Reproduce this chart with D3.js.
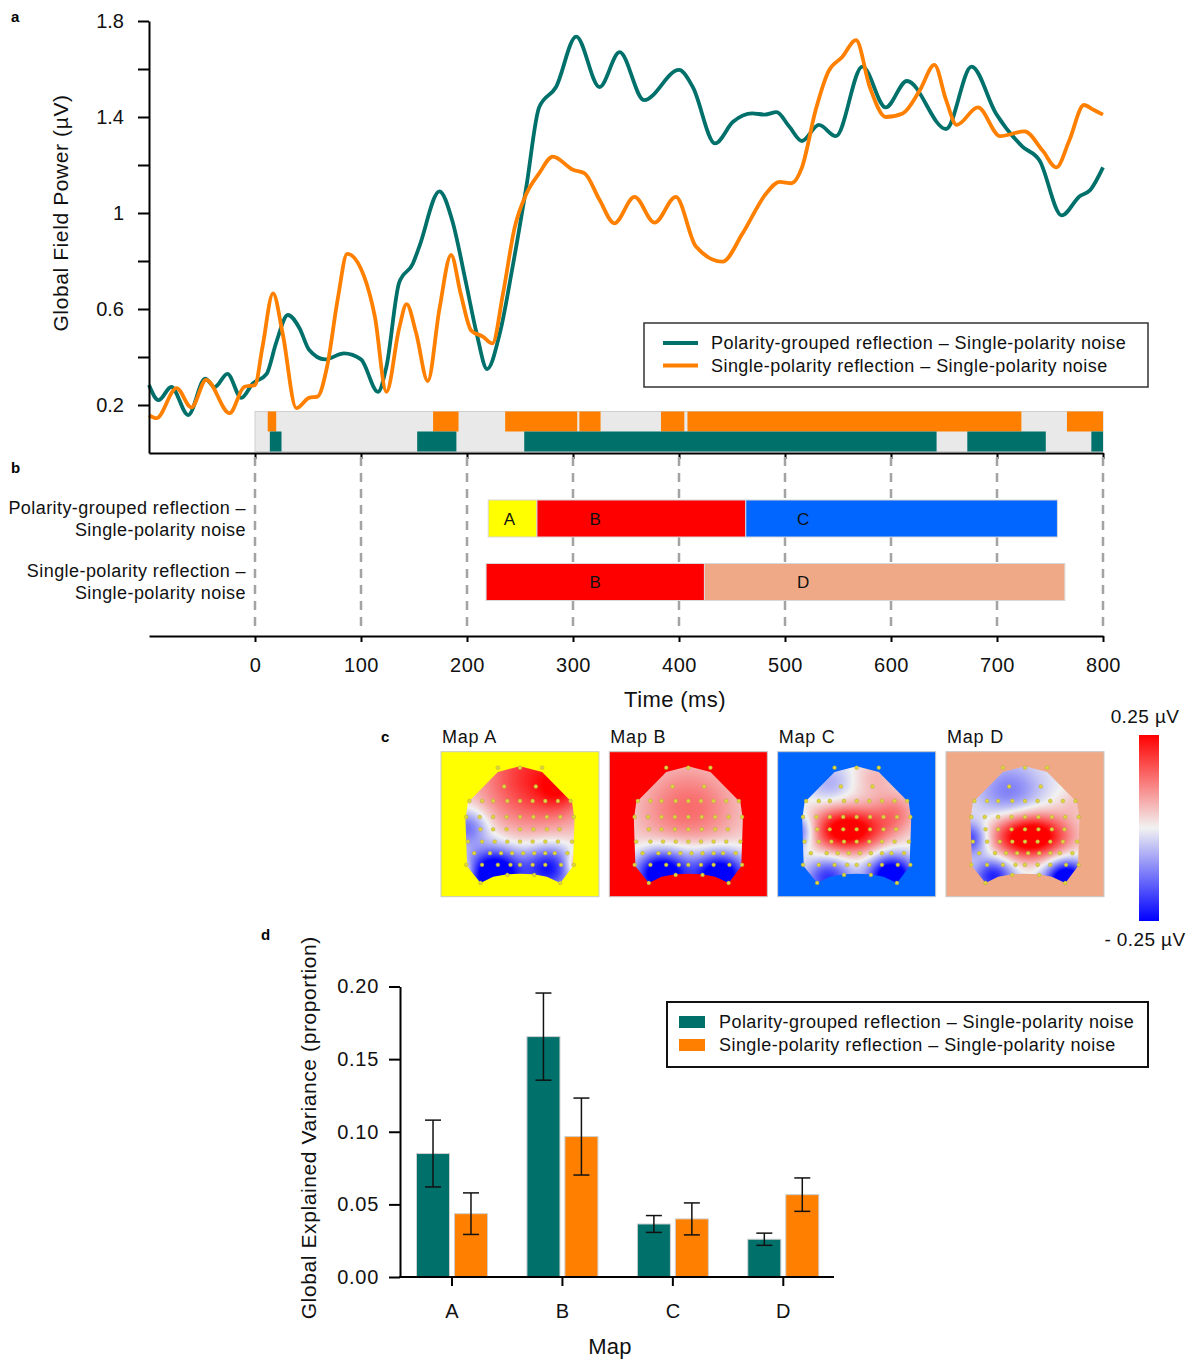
<!DOCTYPE html>
<html>
<head>
<meta charset="utf-8">
<script src="https://cdn.jsdelivr.net/npm/d3@7"></script>
<style>
  body { margin: 0; background: #fff; }
  svg { display: block; }
</style>
</head>
<body>
<svg id="fig" width="1189" height="1361"></svg>
<script>
/* ---------------- data ---------------- */

// panel a: global field power (time in ms, value in µV)
const gfpGroupedTime = [-100, -91, -79, -63, -47, -38, -26, -13, -2, 11, 20, 31, 42, 51, 66, 84, 100, 116, 124,
  136, 149, 155, 174, 186, 199, 209, 219, 231, 243, 256, 268, 284, 303, 325, 344, 367, 400, 413, 434,
  451, 469, 481, 492, 504, 516, 532, 548, 573, 595, 615, 652, 676, 699, 724, 740, 761, 778, 788, 800];
const gfpGroupedValue = [0.283, 0.22, 0.275, 0.158, 0.31, 0.275, 0.33, 0.23, 0.29, 0.33, 0.46, 0.575, 0.52, 0.43, 0.39, 0.415, 0.39, 0.255, 0.36,
  0.71, 0.79, 0.86, 1.09, 0.97, 0.71, 0.50, 0.35, 0.50, 0.775, 1.11, 1.44, 1.525, 1.735, 1.525, 1.67, 1.47, 1.596, 1.525, 1.29,
  1.38, 1.415, 1.41, 1.42, 1.36, 1.30, 1.367, 1.32, 1.61, 1.44, 1.55, 1.35, 1.61, 1.415, 1.277, 1.22, 0.99, 1.07, 1.096, 1.19];

const gfpSingleTime = [-100, -93, -74, -60, -46, -24, -10, 0, 7, 17, 26, 39, 51, 59, 68, 78, 87, 103, 113, 124,
  136, 143, 152, 163, 174, 185, 194, 204, 215, 224, 234, 245, 256, 268, 281, 300, 311, 325, 339, 358,
  377, 397, 416, 441, 460, 482, 495, 506, 516, 529, 541, 554, 567, 580, 595, 611, 627, 641, 652, 662,
  682, 703, 726, 743, 756, 768, 782, 791, 800];
const gfpSingleValue = [0.158, 0.145, 0.27, 0.19, 0.305, 0.166, 0.276, 0.283, 0.44, 0.665, 0.50, 0.187, 0.23, 0.235, 0.36, 0.64, 0.83, 0.735, 0.57, 0.255,
  0.52, 0.62, 0.50, 0.30, 0.60, 0.825, 0.665, 0.51, 0.485, 0.457, 0.665, 0.94, 1.08, 1.165, 1.235, 1.18, 1.165, 1.055, 0.957, 1.067,
  0.96, 1.067, 0.86, 0.797, 0.915, 1.08, 1.13, 1.124, 1.19, 1.43, 1.59, 1.65, 1.72, 1.525, 1.40, 1.415, 1.51, 1.617, 1.47, 1.367,
  1.44, 1.32, 1.34, 1.26, 1.19, 1.30, 1.45, 1.43, 1.41];

// significant windows (ms)
const sigGrouped = [[14, 25], [153, 190], [254, 643], [672, 746], [789, 800]];
const sigSingle = [[12, 20], [168, 192], [236, 304], [306, 326], [383, 405], [408, 723], [766, 800]];

// panel b: microstate segments per condition
const conditions = ['grouped', 'single'];
const conditionNames = [
  ['Polarity-grouped reflection –', 'Single-polarity noise'],
  ['Single-polarity reflection –', 'Single-polarity noise']
];
const segGrouped = [
  { map: 'A', start: 220, end: 266, labelAt: 240 },
  { map: 'B', start: 266, end: 463, labelAt: 321 },
  { map: 'C', start: 463, end: 757, labelAt: 517 }
];
const segSingle = [
  { map: 'B', start: 218, end: 424, labelAt: 321 },
  { map: 'D', start: 424, end: 764, labelAt: 517 }
];

// panel d: global explained variance
const mapNames = ['A', 'B', 'C', 'D'];
const gevGrouped = [0.085, 0.1655, 0.0365, 0.026];
const gevGroupedErr = [0.023, 0.030, 0.0058, 0.0042];
const gevSingle = [0.0436, 0.0967, 0.040, 0.0567];
const gevSingleErr = [0.0143, 0.0265, 0.011, 0.0115];

// ticks
const timeTicks = [0, 100, 200, 300, 400, 500, 600, 700, 800];
const gfpTicks = [0.2, 0.4, 0.6, 0.8, 1.0, 1.2, 1.4, 1.6, 1.8];
const gfpLabelled = [0.2, 0.6, 1.0, 1.4, 1.8];
const gevTicks = [0, 0.05, 0.10, 0.15, 0.20];

// panel c: rough topography model, sources [x, y, amplitude µV, spread x, spread y] in map-relative units
const topoA = [[0.6, 0.18, 0.21, 0.27], [0.76, 0.26, 0.09, 0.1], [0.34, 0.84, -0.36, 0.12], [0.68, 0.8, -0.24, 0.11],
  [0.17, 0.52, -0.15, 0.09], [0.88, 0.78, 0.16, 0.06], [0.13, 0.82, 0.12, 0.05]];
const topoB = [[0.5, 0.4, 0.14, 0.25], [0.32, 0.84, -0.32, 0.11], [0.71, 0.85, -0.32, 0.11], [0.5, 0.8, -0.09, 0.14]];
const topoC = [[0.44, 0.54, 0.3, 0.17, 0.11], [0.75, 0.42, 0.1, 0.1], [0.12, 0.55, -0.2, 0.08], [0.33, 0.22, -0.07, 0.1],
  [0.62, 0.18, 0.06, 0.1], [0.72, 0.86, -0.35, 0.1], [0.32, 0.87, -0.2, 0.1]];
const topoD = [[0.53, 0.58, 0.33, 0.17, 0.11], [0.4, 0.28, -0.12, 0.15], [0.15, 0.6, -0.2, 0.08], [0.76, 0.88, -0.35, 0.09],
  [0.3, 0.86, -0.22, 0.09], [0.82, 0.35, 0.04, 0.08]];
const topoSources = { A: topoA, B: topoB, C: topoC, D: topoD };

// scalp outline and electrode rows (map-relative)
const headOutline = [[0.50, 0.10], [0.64, 0.14], [0.83, 0.35], [0.845, 0.47], [0.835, 0.79], [0.755, 0.905],
  [0.67, 0.862], [0.585, 0.845], [0.5, 0.842], [0.42, 0.845], [0.33, 0.862], [0.25, 0.905],
  [0.165, 0.79], [0.155, 0.47], [0.17, 0.35], [0.36, 0.14]];
const electrodeRows = [
  { y: 0.11, xs: [0.36, 0.50, 0.64] },
  { y: 0.24, xs: [0.40, 0.60] },
  { y: 0.34, xs: [0.18, 0.26, 0.33, 0.42, 0.50, 0.58, 0.66, 0.74, 0.82] },
  { y: 0.45, xs: [0.16, 0.245, 0.33, 0.415, 0.50, 0.585, 0.67, 0.755, 0.84] },
  { y: 0.535, xs: [0.25, 0.33, 0.415, 0.50, 0.585, 0.67, 0.75] },
  { y: 0.62, xs: [0.17, 0.26, 0.34, 0.42, 0.50, 0.58, 0.66, 0.74, 0.83] },
  { y: 0.70, xs: [0.21, 0.31, 0.38, 0.45, 0.52, 0.59, 0.66, 0.72, 0.80] },
  { y: 0.78, xs: [0.16, 0.26, 0.36, 0.44, 0.50, 0.58, 0.66, 0.76, 0.84] },
  { y: 0.85, xs: [0.42, 0.59] },
  { y: 0.905, xs: [0.25, 0.755] }
];

/* ---------------- styles ---------------- */
const FONT = '"Liberation Sans", Arial, Helvetica, sans-serif';
const TEAL = '#00706b';
const ORANGE = '#ff8000';
const mapColors = { A: '#ffff00', B: '#ff0000', C: '#0066ff', D: '#f0a986' };

const svg = d3.select('#fig').attr('font-family', FONT);

function styleAxis(g, size, spacing) {
  g.attr('font-family', FONT).attr('font-size', size);
  g.select('.domain').attr('stroke', '#000').attr('stroke-width', 2);
  g.selectAll('.tick line').attr('stroke', '#000').attr('stroke-width', 2);
  g.selectAll('.tick text').attr('fill', '#111').attr('letter-spacing', spacing || 0);
}

function label(x, y, txt, size, spacing, anchor) {
  return svg.append('text').attr('x', x).attr('y', y)
    .attr('font-size', size).attr('letter-spacing', spacing || 0)
    .attr('text-anchor', anchor || 'start').attr('fill', '#111').text(txt);
}

function panelLabel(txt, x, y) {
  svg.append('text').attr('x', x).attr('y', y).attr('font-size', 15).attr('font-weight', 700).text(txt);
}

/* ---------------- panel a ---------------- */
const x = d3.scaleLinear().domain([-100, 800]).range([149, 1103]);
const yA = d3.scaleLinear().domain([0, 1.8]).range([453, 21]);

// significance strip
const sigRow = d3.scaleBand().domain(['single', 'grouped']).range([411.5, 451.5]);
const strip = svg.append('g');
strip.append('rect')
  .attr('x', x(0)).attr('y', 411.5)
  .attr('width', x(800) - x(0)).attr('height', 40)
  .attr('fill', '#e9e9e9').attr('stroke', '#cfcfcf');
strip.selectAll('rect.sig-single').data(sigSingle).join('rect')
  .attr('class', 'sig-single')
  .attr('x', d => x(d[0])).attr('width', d => x(d[1]) - x(d[0]))
  .attr('y', sigRow('single')).attr('height', sigRow.bandwidth())
  .attr('fill', ORANGE);
strip.selectAll('rect.sig-grouped').data(sigGrouped).join('rect')
  .attr('class', 'sig-grouped')
  .attr('x', d => x(d[0])).attr('width', d => x(d[1]) - x(d[0]))
  .attr('y', sigRow('grouped')).attr('height', sigRow.bandwidth())
  .attr('fill', TEAL);

// curves
const gfpLine = d3.line().x(d => x(d[0])).y(d => yA(d[1])).curve(d3.curveMonotoneX);
svg.append('path').datum(d3.zip(gfpGroupedTime, gfpGroupedValue))
  .attr('d', gfpLine).attr('fill', 'none').attr('stroke', TEAL).attr('stroke-width', 3.8)
  .attr('stroke-linejoin', 'round');
svg.append('path').datum(d3.zip(gfpSingleTime, gfpSingleValue))
  .attr('d', gfpLine).attr('fill', 'none').attr('stroke', ORANGE).attr('stroke-width', 3.8)
  .attr('stroke-linejoin', 'round');

// axes
svg.append('g').attr('transform', 'translate(149,0)')
  .call(d3.axisLeft(yA).tickValues(gfpTicks).tickSize(11).tickPadding(14).tickSizeOuter(0)
    .tickFormat(d => gfpLabelled.some(v => Math.abs(v - d) < 1e-9) ? String(+d.toFixed(1)) : ''))
  .call(g => styleAxis(g, 20));
svg.append('g').attr('transform', 'translate(0,453)')
  .call(d3.axisBottom(x).tickValues(timeTicks).tickSize(6).tickSizeOuter(0).tickFormat(''))
  .call(g => styleAxis(g, 20));

svg.append('text')
  .attr('transform', `translate(68,${(yA(1.8) + yA(0.2)) / 2}) rotate(-90)`)
  .attr('text-anchor', 'middle').attr('font-size', 21).attr('letter-spacing', 0.6).attr('fill', '#111')
  .text('Global Field Power (µV)');

// legend
const legA = svg.append('g').attr('transform', 'translate(644,323)');
legA.append('rect').attr('width', 504).attr('height', 64)
  .attr('fill', '#fff').attr('stroke', '#333').attr('stroke-width', 1.5);
[[TEAL, 'Polarity-grouped reflection – Single-polarity noise'],
 [ORANGE, 'Single-polarity reflection – Single-polarity noise']].forEach(([c, t], i) => {
  const yy = 20 + i * 22.5;
  legA.append('line').attr('x1', 19).attr('x2', 54).attr('y1', yy).attr('y2', yy)
    .attr('stroke', c).attr('stroke-width', 4);
  legA.append('text').attr('x', 67).attr('y', yy + 6).attr('font-size', 18)
    .attr('letter-spacing', 0.45).attr('fill', '#111').text(t);
});

panelLabel('a', 11, 22);

/* ---------------- panel b ---------------- */
const yB = d3.scaleBand().domain(conditions).range([486.75, 613.75]).paddingInner(0.417).paddingOuter(0.2085);

svg.append('g').selectAll('line').data(timeTicks).join('line')
  .attr('x1', d => x(d)).attr('x2', d => x(d))
  .attr('y1', 457).attr('y2', 632)
  .attr('stroke', '#a3a3a3').attr('stroke-width', 2.5).attr('stroke-dasharray', '9,7');

const segs = [segGrouped, segSingle];
conditions.forEach((cond, ci) => {
  const g = svg.append('g');
  g.selectAll('rect').data(segs[ci]).join('rect')
    .attr('x', d => x(d.start)).attr('width', d => x(d.end) - x(d.start))
    .attr('y', yB(cond)).attr('height', yB.bandwidth())
    .attr('fill', d => mapColors[d.map]).attr('stroke', '#d8d8d8').attr('stroke-width', 1);
  g.selectAll('text').data(segs[ci]).join('text')
    .attr('x', d => x(d.labelAt)).attr('y', yB(cond) + yB.bandwidth() / 2 + 6)
    .attr('text-anchor', 'middle').attr('font-size', 17).attr('fill', '#111')
    .text(d => d.map);
  const cy = yB(cond) + yB.bandwidth() / 2;
  conditionNames[ci].forEach((line, li) => {
    label(246, cy - 11 + li * 22 + 6, line, 18, 0.43, 'end');
  });
});

svg.append('g').attr('transform', 'translate(0,636)')
  .call(d3.axisBottom(x).tickValues(timeTicks).tickSize(6).tickPadding(16).tickSizeOuter(0))
  .call(g => styleAxis(g, 20, 0.5));
label(675, 707, 'Time (ms)', 22, 0.4, 'middle');

panelLabel('b', 11, 473);

/* ---------------- panel c ---------------- */
const mapBand = d3.scaleBand().domain(mapNames).range([441, 1104]).paddingInner(0.0614);
const mapTop = 751.7, mapH = 145;
const topoColor = d3.scaleLinear().domain([-0.25, 0, 0.25])
  .range(['#0000ff', '#f2f2f2', '#ff0000']).clamp(true);
const defs = svg.append('defs');

mapNames.forEach(m => {
  const w = mapBand.bandwidth();
  const g = svg.append('g').attr('transform', `translate(${mapBand(m)},${mapTop})`);
  g.append('rect').attr('width', w).attr('height', mapH)
    .attr('fill', mapColors[m]).attr('stroke', '#c8c8c8').attr('stroke-width', 1);

  const headPath = d3.line().x(d => d[0] * w).y(d => d[1] * mapH).curve(d3.curveLinearClosed)(headOutline);
  defs.append('clipPath').attr('id', 'head-' + m).append('path').attr('d', headPath);

  // paint the scalp field into a canvas, then drop it in as an image
  const S = 2, cw = Math.round(w * S), ch = Math.round(mapH * S);
  const canvas = document.createElement('canvas');
  canvas.width = cw; canvas.height = ch;
  const ctx = canvas.getContext('2d');
  const img = ctx.createImageData(cw, ch);
  for (let j = 0; j < ch; j++) {
    for (let i = 0; i < cw; i++) {
      const u = (i + 0.5) / cw, v = (j + 0.5) / ch;
      let val = 0;
      for (const [sx, sy, a, s, s2] of topoSources[m]) {
        const ky = s2 || s;
        const dx = (u - sx) / s, dy = (v - sy) / ky;
        val += a * Math.exp(-(dx * dx + dy * dy) / 2);
      }
      const c = d3.rgb(topoColor(val));
      const k = (j * cw + i) * 4;
      img.data[k] = c.r; img.data[k + 1] = c.g; img.data[k + 2] = c.b; img.data[k + 3] = 255;
    }
  }
  ctx.putImageData(img, 0, 0);
  g.append('image').attr('href', canvas.toDataURL())
    .attr('width', w).attr('height', mapH).attr('preserveAspectRatio', 'none')
    .attr('clip-path', `url(#head-${m})`);

  const pts = electrodeRows.flatMap(r => r.xs.map(ex => [ex, r.y]));
  g.selectAll('circle').data(pts).join('circle')
    .attr('cx', d => d[0] * w).attr('cy', d => d[1] * mapH).attr('r', 1.9)
    .attr('fill', '#e0d63e').attr('stroke', '#a8a232').attr('stroke-width', 0.4);

  label(mapBand(m) + 1, 743, 'Map ' + m, 18, 0.8);
});

// colour bar
const grad = defs.append('linearGradient').attr('id', 'cbar')
  .attr('x1', 0).attr('x2', 0).attr('y1', 1).attr('y2', 0);
[-0.25, -0.125, 0, 0.125, 0.25].forEach(v => {
  grad.append('stop').attr('offset', (v + 0.25) / 0.5).attr('stop-color', topoColor(v));
});
svg.append('rect').attr('x', 1139).attr('y', 735).attr('width', 20).attr('height', 186)
  .attr('fill', 'url(#cbar)');
label(1145, 723, '0.25 µV', 19, 0.4, 'middle');
label(1145, 946, '- 0.25 µV', 19, 0.4, 'middle');

panelLabel('c', 381, 742);

/* ---------------- panel d ---------------- */
const xD = d3.scalePoint().domain(mapNames).range([451.5, 782.8]);
const xSub = d3.scaleBand().domain(['grouped', 'single']).range([-35, 36]).paddingInner(0.13);
const yD = d3.scaleLinear().domain([0, 0.2]).range([1277, 986.5]);

const gevRows = mapNames.map((m, i) => [
  { map: m, cond: 'grouped', v: gevGrouped[i], e: gevGroupedErr[i] },
  { map: m, cond: 'single', v: gevSingle[i], e: gevSingleErr[i] }
]).flat();

const bars = svg.append('g');
bars.selectAll('rect').data(gevRows).join('rect')
  .attr('x', d => xD(d.map) + xSub(d.cond)).attr('width', xSub.bandwidth())
  .attr('y', d => yD(d.v)).attr('height', d => yD(0) - yD(d.v))
  .attr('fill', d => d.cond === 'grouped' ? TEAL : ORANGE)
  .attr('stroke', '#cfcfcf').attr('stroke-width', 1);

const err = svg.append('g').attr('stroke', '#111').attr('stroke-width', 1.5);
gevRows.forEach(d => {
  const cx = xD(d.map) + xSub(d.cond) + xSub.bandwidth() / 2;
  err.append('line').attr('x1', cx).attr('x2', cx).attr('y1', yD(d.v + d.e)).attr('y2', yD(d.v - d.e));
  [d.v + d.e, d.v - d.e].forEach(v => {
    err.append('line').attr('x1', cx - 8).attr('x2', cx + 8).attr('y1', yD(v)).attr('y2', yD(v));
  });
});

svg.append('g').attr('transform', 'translate(400,0)')
  .call(d3.axisLeft(yD).tickValues(gevTicks).tickSize(11).tickPadding(10).tickSizeOuter(0)
    .tickFormat(d3.format('.2f')))
  .call(g => styleAxis(g, 20, 0.7));
svg.append('g').attr('transform', 'translate(0,1277)')
  .call(d3.axisBottom(xD).tickSize(9).tickPadding(18).tickSizeOuter(0))
  .call(g => styleAxis(g, 20))
  .call(g => g.select('.domain').remove());
svg.append('line').attr('x1', 399).attr('x2', 834).attr('y1', 1277).attr('y2', 1277)
  .attr('stroke', '#000').attr('stroke-width', 2);

svg.append('text')
  .attr('transform', `translate(316,${(yD(0) + yD(0.2)) / 2 - 4}) rotate(-90)`)
  .attr('text-anchor', 'middle').attr('font-size', 21).attr('letter-spacing', 0.6).attr('fill', '#111')
  .text('Global Explained Variance (proportion)');
label(610, 1354, 'Map', 22, 0.3, 'middle');

const legD = svg.append('g').attr('transform', 'translate(667,1002)');
legD.append('rect').attr('width', 481).attr('height', 65)
  .attr('fill', '#fff').attr('stroke', '#111').attr('stroke-width', 2);
[[TEAL, 'Polarity-grouped reflection – Single-polarity noise'],
 [ORANGE, 'Single-polarity reflection – Single-polarity noise']].forEach(([c, t], i) => {
  const yy = 20 + i * 23;
  legD.append('rect').attr('x', 12).attr('y', yy - 6).attr('width', 26).attr('height', 12).attr('fill', c);
  legD.append('text').attr('x', 52).attr('y', yy + 6).attr('font-size', 18)
    .attr('letter-spacing', 0.45).attr('fill', '#111').text(t);
});

panelLabel('d', 261, 940);
</script>
</body>
</html>
